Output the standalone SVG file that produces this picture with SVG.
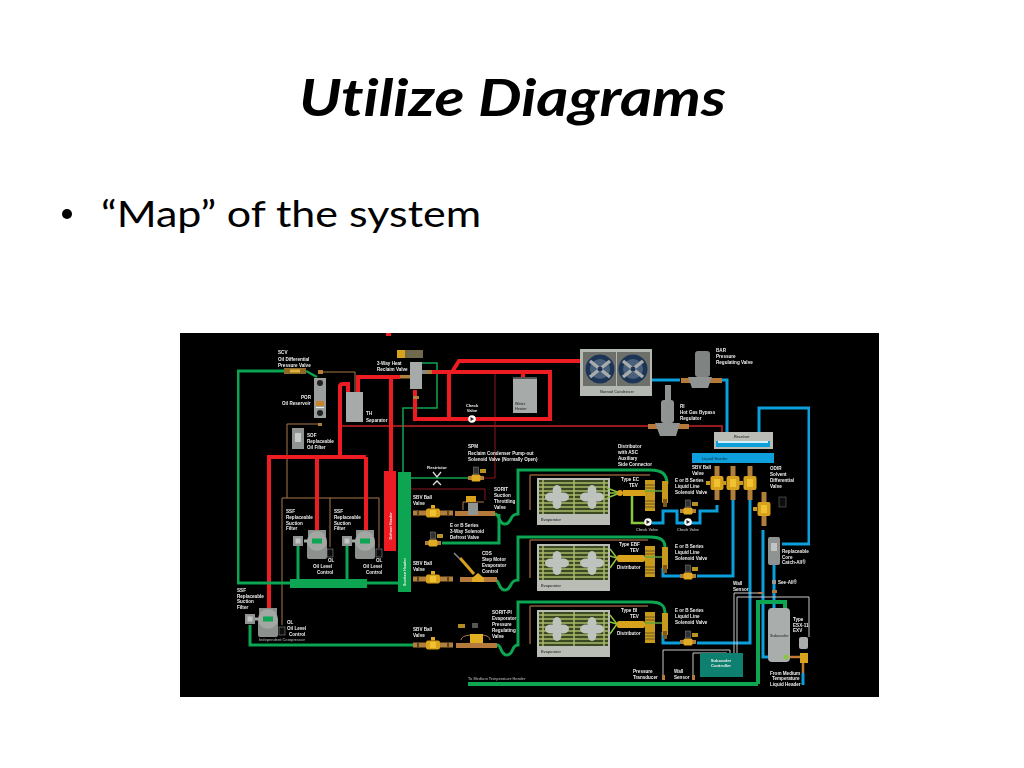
<svg xmlns="http://www.w3.org/2000/svg" width="1024" height="768" viewBox="0 0 1024 768">
<defs>
<filter id="soft" x="0" y="0" width="1" height="1"><feGaussianBlur stdDeviation="0.4"/></filter>
<style>
.title{font:italic 700 52px Lato,"Liberation Sans",sans-serif;fill:#000;font-variant-ligatures:none}
.body{font:400 37px Lato,"Liberation Sans",sans-serif;fill:#000;font-variant-ligatures:none}
.t{font:700 4.6px "Liberation Sans",Arial,sans-serif;fill:#eee}
.s{font:700 3.8px "Liberation Sans",Arial,sans-serif;fill:#444}
.d{font:700 3.8px "Liberation Sans",Arial,sans-serif;fill:#999}
.v{font:700 4.2px "Liberation Sans",Arial,sans-serif;fill:#eee;text-anchor:middle}
.p{fill:none;stroke-linejoin:miter}
.g{stroke:#0aa551;stroke-width:3}
.gt{stroke:#0aa551;stroke-width:1.5}
.gl{stroke:#8cc63f;stroke-width:2.5}
.r{stroke:#ed1c24;stroke-width:4}
.rt{stroke:#c8202a;stroke-width:1.5}
.rd{stroke:#8c1c22;stroke-width:1}
.b{stroke:#0d9fdc;stroke-width:3}
.br{stroke:#a8784a;stroke-width:1}
.w{stroke:#c8c8c8;stroke-width:1}
</style>
<g id="ball">
<rect x="-20" y="-2.500" width="40" height="5" fill="#b07f3a"/>
<rect x="-16" y="-2.500" width="2" height="5" fill="#5b4420"/>
<rect x="14" y="-2.500" width="2" height="5" fill="#5b4420"/>
<rect x="-7" y="-4.500" width="14" height="9" rx="2" fill="#d9a21c"/>
<rect x="-3" y="-3" width="6" height="6" fill="#f0c230"/>
<rect x="-2" y="-8" width="4" height="3.500" fill="#e0aa20"/>
</g>
<g id="vball">
<rect x="-2.500" y="-17" width="5" height="34" fill="#b07f3a"/>
<rect x="-6.500" y="-7" width="13" height="14" rx="2" fill="#d9a21c"/>
<rect x="-3" y="-4" width="6" height="8" fill="#f0c230"/>
<rect x="-11" y="-2" width="4" height="4" fill="#c89820"/>
</g>
<g id="sol">
<rect x="-8" y="-2" width="16" height="4" fill="#b07f3a"/>
<rect x="-4.500" y="-3.500" width="9" height="7" rx="1.500" fill="#e0aa20"/>
<rect x="-2.500" y="-11" width="5" height="7" fill="#333" stroke="#888" stroke-width=".5"/>
<rect x="4" y="-9" width="6" height="4" fill="#b59324"/>
</g>
<g id="check">
<circle r="3.800" fill="#fff"/>
<path d="M-1.500 -2L2 0L-1.500 2Z" fill="#222"/>
</g>
<g id="fan">
<ellipse cx="0" cy="-6" rx="4.500" ry="6" fill="#bfc3be"/>
<ellipse cx="0" cy="6" rx="4.500" ry="6" fill="#bfc3be"/>
<ellipse cx="-6" cy="0" rx="6" ry="4.500" fill="#bfc3be"/>
<ellipse cx="6" cy="0" rx="6" ry="4.500" fill="#bfc3be"/>
</g>
<g id="evap">
<rect width="73" height="47" fill="#b9bdb6"/>
<rect x="2" y="2" width="69" height="34" fill="#3b4a22"/>
<path class="p" d="M2 5H71M2 9H71M2 13H71M2 17H71M2 21H71M2 25H71M2 29H71M2 33H71" stroke="#a9b86a" stroke-width="1.300"/>
<path class="p" d="M6 2V36M37 2V36M67 2V36" stroke="#a9b86a" stroke-width="1.500"/>
<use href="#fan" x="20" y="19"/>
<use href="#fan" x="55" y="19"/>
<text class="s" x="4" y="43">Evaporator</text>
</g>
<g id="cfan">
<circle r="14.500" fill="#1e3656"/>
<circle r="10" fill="#49607a"/>
<path d="M-10 -8L10 8M-10 8L10 -8" stroke="#a8adab" stroke-width="3.500"/>
<circle r="2.500" fill="#1e3656"/>
</g>
<g id="comp">
<rect x="-9" y="-11" width="18" height="6" fill="#8c908d"/>
<rect x="-10" y="0" width="20" height="18" rx="2" fill="#8d918e"/>
<circle r="10" fill="#a3a7a4"/>
<rect x="-5" y="-2.500" width="10" height="5" fill="#0aa551"/>
<rect x="-13" y="-1.500" width="4" height="3" fill="#a3a7a4"/>
</g>
<g id="filt">
<rect x="-5" y="-5" width="10" height="10" fill="#8f9391"/>
<rect x="-2.500" y="-2.500" width="5" height="5" fill="#c1c4c2"/>
</g>
<g id="olc">
<rect x="-3" y="-4" width="6" height="8" fill="#111" stroke="#888" stroke-width=".6"/>
</g>
<g id="txv">
<rect x="-5" y="-17" width="10" height="31" fill="#c79a1e"/>
<path d="M-5 -12H5M-5 -9H5M-5 4H5M-5 7H5M-5 10H5" stroke="#5b4420" stroke-width=".8"/>
<rect x="12" y="-16" width="6" height="22" fill="#c79a1e"/>
<rect x="13" y="2" width="4" height="8" fill="#7a5a22"/>
<path d="M12 -6H-5" stroke="#5ea83a" stroke-width="1.500"/>
</g>
</defs>
<rect width="1024" height="768" fill="#fff"/>
<text class="title" x="299" y="116" textLength="427" lengthAdjust="spacingAndGlyphs">Utilize Diagrams</text>
<circle cx="67" cy="214" r="5" fill="#000"/>
<text class="body" x="101" y="227" textLength="380" lengthAdjust="spacingAndGlyphs">“Map” of the system</text>
<rect id="panel" x="180" y="333" width="699" height="364" fill="#000"/>
<rect x="386" y="333" width="5" height="3" fill="#ed1c24"/>

<g id="diagram" filter="url(#soft)">
<g id="connectors">
<path class="p br" d="M320 372H355V392M287 498V424H320M282 625V498H379V548M330 498V547"/>
<path class="p rt" d="M340 426H648M687 426H722V438"/>
<path class="p rd" d="M495 373V478H482"/>
<path class="p gt" d="M411 478H470M403 472V408H437V363H422"/>
<path class="p rd" d="M411 489H485V500"/>
<path class="p r" d="M391 472V377H400M391 377H358V392M340 457V386Q340 384 344 384H348V392"/>
<path class="p r" d="M267 457H366M269 457V612M317 457V530M366 457V530"/>
<path class="p r" d="M425 372H523V378M523 372H550V419H415V390M452 372L459 361H580M449 372V419"/>
<path class="p g" d="M306 371H238V583H290M367 583H398M298 546V580M347 546V580M250 625V645H413"/>
<path class="p" d="M306 371L317 377" stroke="#0aa551" stroke-width="2.500"/>
<path class="p g" d="M442 543H499V514M495 514C500 514 498 524 505 524C512 524 509 514 518 514V470H650C662 470 667 474 667 484"/>
<path class="p g" d="M495 580C500 580 498 590 505 590C512 590 509 580 518 580V537H650C662 537 665 541 665 548"/>
<path class="p g" d="M497 645C502 645 500 655 507 655C514 655 511 645 518 645V602H650C662 602 665 606 665 614"/>
<path class="p" d="M530 475H650M530 475V510M530 540H648M530 540V578M530 606H648M530 606V644" stroke="#8a5a3a" stroke-width="1.500"/>
<path class="p" d="M610 493L620 493M610 556L617 558M610 622L617 624" stroke="#8cc63f" stroke-width="1.500"/>
<path class="p gl" d="M632 495V523H645"/>
<path class="p b" d="M652 380H680M722 380H727V440M759 442V408H809V544H782M717 505V511H700V523H677V511H663V523H652M733 500V576H697M750 500V643H697M680 576H663V568M680 643H663V632"/>
<path class="p b" d="M763 530V657H776M774 565V611"/>
<path class="p" d="M758 684V602H785V613M468 684H758" stroke="#0aa551" stroke-width="4"/>
<path class="p w" d="M734 653V593H762M737 653V597H809V637M663 677V650H730V653M693 677V653H727"/>
<path class="p" d="M790 657H803V673" stroke="#c07a30" stroke-width="2.500"/>
<path class="p b" d="M803 673V685"/>
</g>

<g id="headers">
<rect x="384" y="471" width="12" height="80" fill="#ed1c24"/>
<rect x="398" y="472" width="13" height="120" fill="#0aa551"/>
<rect x="290" y="579" width="77" height="9" fill="#0aa551"/>
<text class="v" transform="translate(392 526) rotate(-90)" style="font-size:3.800px">Defrost Header</text>
<text class="v" transform="translate(406 572) rotate(-90)" style="font-size:3.800px">Suction Header</text>
</g>

<g id="oil-valve">
<rect x="284" y="368" width="22" height="6" fill="#8e6a26"/>
<rect x="290" y="369.500" width="10" height="3" fill="#e0b040"/>
<rect x="318" y="370" width="5" height="4" fill="#b07f3a"/>
<text class="t" x="278" y="354">SCV</text>
<text class="t" x="278" y="360.500">Oil Differential</text>
<text class="t" x="278" y="366.500">Pressure Valve</text>
</g>
<g id="oil-reservoir">
<rect x="314" y="378" width="12" height="40" fill="#9a9e9c"/>
<circle cx="320" cy="383" r="3" fill="#222"/>
<circle cx="320" cy="413" r="3" fill="#222"/>
<rect x="316" y="401" width="8" height="5" fill="#c8842a"/>
<rect x="316" y="407" width="8" height="1" fill="#eee"/>
<text class="t" x="301" y="399">POR</text>
<text class="t" x="282" y="405">Oil Reservoir</text>
</g>
<g id="oil-filter">
<rect x="292" y="428" width="12" height="21" fill="#8f9391"/>
<rect x="295" y="433" width="6" height="9" fill="#c7cac8"/>
<rect x="318" y="423" width="4" height="3" fill="#b07f3a"/>
<text class="t" x="307" y="437">SOF</text>
<text class="t" x="307" y="443">Replaceable</text>
<text class="t" x="307" y="449">Oil Filter</text>
</g>
<g id="oil-separator">
<rect x="346" y="392" width="17" height="30" fill="#a6aaa8"/>
<text class="t" x="366" y="415">TH</text>
<text class="t" x="366" y="422">Separator</text>
</g>
<g id="heat-valve">
<rect x="397" y="350" width="26" height="8" fill="#6f6a4e"/>
<rect x="397" y="350" width="8" height="8" fill="#d9a21c"/>
<rect x="410" y="362" width="12" height="27" fill="#a6aaa8"/>
<rect x="400" y="375" width="10" height="3.500" fill="#b07f3a"/>
<rect x="422" y="370" width="5" height="4" fill="#888"/>
<rect x="427" y="370" width="5" height="4" fill="#b07f3a"/>
<rect x="413" y="396" width="6" height="3" fill="#b07f3a"/>
<text class="t" x="377" y="365">3-Way Heat</text>
<text class="t" x="377" y="371">Reclaim Valve</text>
</g>
<g id="water-heater">
<rect x="513" y="377" width="24" height="36" fill="#a6aaa8"/>
<rect x="513" y="377" width="24" height="2" fill="#555"/>
<text class="s" x="515" y="405">Water</text>
<text class="s" x="515" y="410">Heater</text>
</g>
<g id="check-valve-top">
<use href="#check" x="472" y="419"/>
<text class="v" x="472" y="407">Check</text>
<text class="v" x="472" y="412">Valve</text>
</g>
<g id="restrictor">
<path class="p" d="M433 472L437 477L441 472M433 485L437 481L441 485" stroke="#ddd" stroke-width="1.300"/>
<text class="v" x="437" y="469">Restrictor</text>
</g>
<g id="condenser-solenoid">
<use href="#sol" x="476" y="478"/>
<text class="t" x="468" y="448">SPM</text>
<text class="t" x="468" y="454.500">Reclaim Condenser Pump-out</text>
<text class="t" x="468" y="460.500">Solenoid Valve (Normally Open)</text>
</g>
<g id="condenser">
<rect x="580" y="349" width="72" height="47" fill="#b4b8b2"/>
<rect x="583" y="352" width="33" height="34" fill="#6d6f6b"/>
<rect x="617" y="352" width="33" height="34" fill="#6d6f6b"/>
<use href="#cfan" x="600" y="369"/>
<use href="#cfan" x="633" y="369"/>
<text class="s" x="600" y="393">Normal Condenser</text>
</g>
<g id="pressure-valve">
<rect x="681" y="378" width="41" height="5" fill="#b57a3a"/>
<path d="M688 377H712L708 388H692Z" fill="#8f9391"/>
<rect x="695" y="351" width="15" height="26" rx="3" fill="#7f8381"/>
<text class="t" x="716" y="352">BAR</text>
<text class="t" x="716" y="358">Pressure</text>
<text class="t" x="716" y="364">Regulating Valve</text>
</g>
<g id="bypass-regulator">
<rect x="648" y="424" width="41" height="5" fill="#b57a3a"/>
<path d="M655 423H680L676 436H660Z" fill="#8f9391"/>
<rect x="661" y="400" width="13" height="23" rx="3" fill="#8f9391"/>
<rect x="665" y="385" width="6" height="15" fill="#8f9391"/>
<text class="t" x="680" y="408">RI</text>
<text class="t" x="680" y="414">Hot Gas Bypass</text>
<text class="t" x="680" y="420">Regulator</text>
</g>
<g id="receiver">
<rect x="714" y="432" width="59" height="17" fill="#b9bdb6"/>
<rect x="716" y="441" width="54" height="6" fill="#0d9fdc"/>
<rect x="718" y="441" width="50" height="2" fill="#d5eef8"/>
<text class="s" x="734" y="437.500">Receiver</text>
</g>
<g id="liquid-header">
<rect x="692" y="453" width="82" height="10" fill="#0d9fdc"/>
<text class="s" x="702" y="460" style="fill:#064a68">Liquid Header</text>
<use href="#vball" x="717" y="483"/>
<use href="#vball" x="733" y="483"/>
<use href="#vball" x="750" y="483"/>
<text class="t" x="692" y="469">SBV Ball</text>
<text class="t" x="692" y="475">Valve</text>
<text class="t" x="675" y="482">E or B Series</text>
<text class="t" x="675" y="488">Liquid Line</text>
<text class="t" x="675" y="494">Solenoid Valve</text>
</g>
<g id="differential-valve">
<use href="#vball" x="764" y="509"/>
<rect x="779" y="497" width="7" height="10" fill="#111" stroke="#777" stroke-width=".5"/>
<text class="t" x="770" y="470">ODIR</text>
<text class="t" x="770" y="476">Solvent</text>
<text class="t" x="770" y="482">Differential</text>
<text class="t" x="770" y="488">Valve</text>
</g>

<g id="row1-valves">
<use href="#ball" x="433" y="513"/>
<text class="t" x="413" y="499">SBV Ball</text>
<text class="t" x="413" y="505">Valve</text>
<rect x="455" y="511" width="40" height="5" fill="#b57a3a"/>
<rect x="468" y="503" width="10" height="12" fill="#8f9391"/>
<path class="p" d="M463 510V502H484" stroke="#a8784a" stroke-width="1"/>
<rect x="466" y="496" width="10" height="6" fill="#d9a21c"/>
<text class="t" x="494" y="491">SORIT</text>
<text class="t" x="494" y="497">Suction</text>
<text class="t" x="494" y="503">Throttling</text>
<text class="t" x="494" y="509">Valve</text>
</g>
<g id="row1-evaporator">
<use href="#evap" x="537" y="478"/>
<use href="#txv" x="650" y="497"/>
<path d="M607 488L620 493L607 498" fill="none" stroke="#8cc63f" stroke-width="1.500"/>
<rect x="623" y="490" width="22" height="6" fill="#d9a21c"/>
<circle cx="620" cy="493" r="3" fill="#d9a21c"/>
<text class="t" x="618" y="448">Distributor</text>
<text class="t" x="618" y="454">with ASC</text>
<text class="t" x="618" y="460">Auxiliary</text>
<text class="t" x="618" y="466">Side Connector</text>
<text class="t" x="621" y="481">Type EC</text>
<text class="t" x="629" y="487">TEV</text>
</g>
<g id="row1-checks">
<use href="#check" x="648" y="522"/>
<use href="#check" x="688" y="522"/>
<use href="#sol" x="688" y="511"/>
<text class="s" x="636" y="531" style="fill:#aaa">Check Valve</text>
<text class="s" x="677" y="531" style="fill:#aaa">Check Valve</text>
</g>
<g id="row2-solenoid-defrost">
<use href="#sol" x="433" y="543"/>
<text class="t" x="450" y="527">E or B Series</text>
<text class="t" x="450" y="533">3-Way Solenoid</text>
<text class="t" x="450" y="539">Defrost Valve</text>
</g>
<g id="row2-valves">
<use href="#ball" x="433" y="579"/>
<text class="t" x="413" y="565">SBV Ball</text>
<text class="t" x="413" y="571">Valve</text>
<rect x="460" y="577" width="37" height="5" fill="#b57a3a"/>
<path d="M472 578L478 573L484 578V582H472Z" fill="#e0aa20"/>
<path d="M460 558L474 574" stroke="#d9a21c" stroke-width="3"/>
<path d="M454 553L460 559" stroke="#888" stroke-width="1.500"/>
<text class="t" x="482" y="555">CDS</text>
<text class="t" x="482" y="561">Step Motor</text>
<text class="t" x="482" y="567">Evaporator</text>
<text class="t" x="482" y="573">Control</text>
</g>
<g id="row2-evaporator">
<use href="#evap" x="537" y="544"/>
<use href="#txv" x="650" y="563"/>
<path d="M610 549L617 558L610 568" fill="none" stroke="#8cc63f" stroke-width="1.500"/>
<rect x="617" y="555" width="28" height="7" rx="2" fill="#d9a21c"/>
<use href="#sol" x="688" y="576"/>
<text class="t" x="619" y="546">Type EBF</text>
<text class="t" x="630" y="552">TEV</text>
<text class="t" x="617" y="569">Distributor</text>
<text class="t" x="675" y="548">E or B Series</text>
<text class="t" x="675" y="554">Liquid Line</text>
<text class="t" x="675" y="560">Solenoid Valve</text>
</g>
<g id="row3-valves">
<use href="#ball" x="433" y="645"/>
<text class="t" x="413" y="631">SBV Ball</text>
<text class="t" x="413" y="637">Valve</text>
<rect x="456" y="643" width="41" height="5" fill="#b57a3a"/>
<rect x="470" y="634" width="13" height="9" fill="#e0b020"/>
<path class="p" d="M461 640Q461 636 470 635M483 635Q490 636 490 640" stroke="#a8784a" stroke-width="1"/>
<rect x="458" y="624" width="7" height="4" fill="#b08c20"/>
<rect x="472" y="623" width="6" height="5" fill="#555"/>
<text class="t" x="492" y="614">SORIT-PI</text>
<text class="t" x="492" y="620">Evaporator</text>
<text class="t" x="492" y="626">Pressure</text>
<text class="t" x="492" y="632">Regulating</text>
<text class="t" x="492" y="638">Valve</text>
</g>
<g id="row3-evaporator">
<use href="#evap" x="537" y="610"/>
<use href="#txv" x="650" y="629"/>
<path d="M610 615L617 624L610 634" fill="none" stroke="#8cc63f" stroke-width="1.500"/>
<rect x="617" y="621" width="28" height="7" rx="2" fill="#d9a21c"/>
<use href="#sol" x="688" y="642"/>
<text class="t" x="621" y="612">Type BI</text>
<text class="t" x="630" y="618">TEV</text>
<text class="t" x="617" y="635">Distributor</text>
<text class="t" x="675" y="612">E or B Series</text>
<text class="t" x="675" y="618">Liquid Line</text>
<text class="t" x="675" y="624">Solenoid Valve</text>
</g>

<g id="compressor-1">
<use href="#filt" x="298" y="541"/>
<use href="#comp" x="317" y="541"/>
<use href="#olc" x="330" y="553"/>
<text class="t" x="286" y="513">SSF</text>
<text class="t" x="286" y="519">Replaceable</text>
<text class="t" x="286" y="525">Suction</text>
<text class="t" x="286" y="530">Filter</text>
<text class="t" x="328" y="562">OL</text>
<text class="t" x="313" y="568">Oil Level</text>
<text class="t" x="317" y="574">Control</text>
</g>
<g id="compressor-2">
<use href="#filt" x="347" y="541"/>
<use href="#comp" x="365" y="541"/>
<use href="#olc" x="379" y="553"/>
<text class="t" x="334" y="513">SSF</text>
<text class="t" x="334" y="519">Replaceable</text>
<text class="t" x="334" y="525">Suction</text>
<text class="t" x="334" y="530">Filter</text>
<text class="t" x="376" y="562">OL</text>
<text class="t" x="363" y="568">Oil Level</text>
<text class="t" x="366" y="574">Control</text>
</g>
<g id="compressor-3">
<use href="#filt" x="250" y="619"/>
<use href="#comp" x="268" y="619"/>
<use href="#olc" x="282" y="631"/>
<text class="t" x="237" y="592">SSF</text>
<text class="t" x="237" y="598">Replaceable</text>
<text class="t" x="237" y="603">Suction</text>
<text class="t" x="237" y="609">Filter</text>
<text class="t" x="287" y="624">OL</text>
<text class="t" x="287" y="630">Oil Level</text>
<text class="t" x="289" y="636">Control</text>
<text class="d" x="259" y="641">Independent Compressor</text>
</g>

<g id="subcooler">
<rect x="768" y="608" width="22" height="54" rx="4" fill="#a9adac"/>
<text class="s" x="770" y="637">Subcooler</text>
<circle cx="786" cy="657" r="2.500" fill="#8cc63f"/>
</g>
<g id="filter-drier">
<rect x="768" y="537" width="12" height="28" rx="2" fill="#8f9391"/>
<rect x="771" y="543" width="6" height="8" fill="#c1c4c2"/>
<text class="t" x="782" y="553">Replaceable</text>
<text class="t" x="782" y="559">Core</text>
<text class="t" x="782" y="564">Catch-All®</text>
</g>
<g id="see-all">
<rect x="772" y="580" width="4" height="4" fill="#999"/>
<rect x="772" y="590" width="5" height="3" fill="#b57a3a"/>
<text class="t" x="778" y="584">See-All®</text>
</g>
<g id="evr-valve">
<rect x="799" y="637" width="9" height="12" rx="2" fill="#a9adac"/>
<rect x="800" y="653" width="8" height="10" fill="#d9a21c"/>
<text class="t" x="793" y="621">Type</text>
<text class="t" x="793" y="627">ESX-11</text>
<text class="t" x="793" y="632">EXV</text>
</g>
<g id="controller">
<rect x="700" y="653" width="43" height="24" fill="#0d8070"/>
<text class="v" x="721" y="662">Subcooler</text>
<text class="v" x="721" y="667">Controller</text>
</g>
<g id="sensors">
<rect x="662" y="675" width="3" height="5" fill="#b57a3a"/>
<rect x="692" y="675" width="3" height="5" fill="#b57a3a"/>
<rect x="758" y="592" width="5" height="2" fill="#b57a3a"/>
<text class="t" x="633" y="673">Pressure</text>
<text class="t" x="633" y="679">Transducer</text>
<text class="t" x="674" y="673">Wall</text>
<text class="t" x="674" y="679">Sensor</text>
<text class="t" x="733" y="585">Wall</text>
<text class="t" x="733" y="591">Sensor</text>
</g>
<g id="notes">
<text class="d" x="468" y="680">To Medium Temperature Header</text>
<text class="t" x="770" y="675">From Medium</text>
<text class="t" x="772" y="680">Temperature</text>
<text class="t" x="770" y="686">Liquid Header</text>
</g>
</g>
</svg>
